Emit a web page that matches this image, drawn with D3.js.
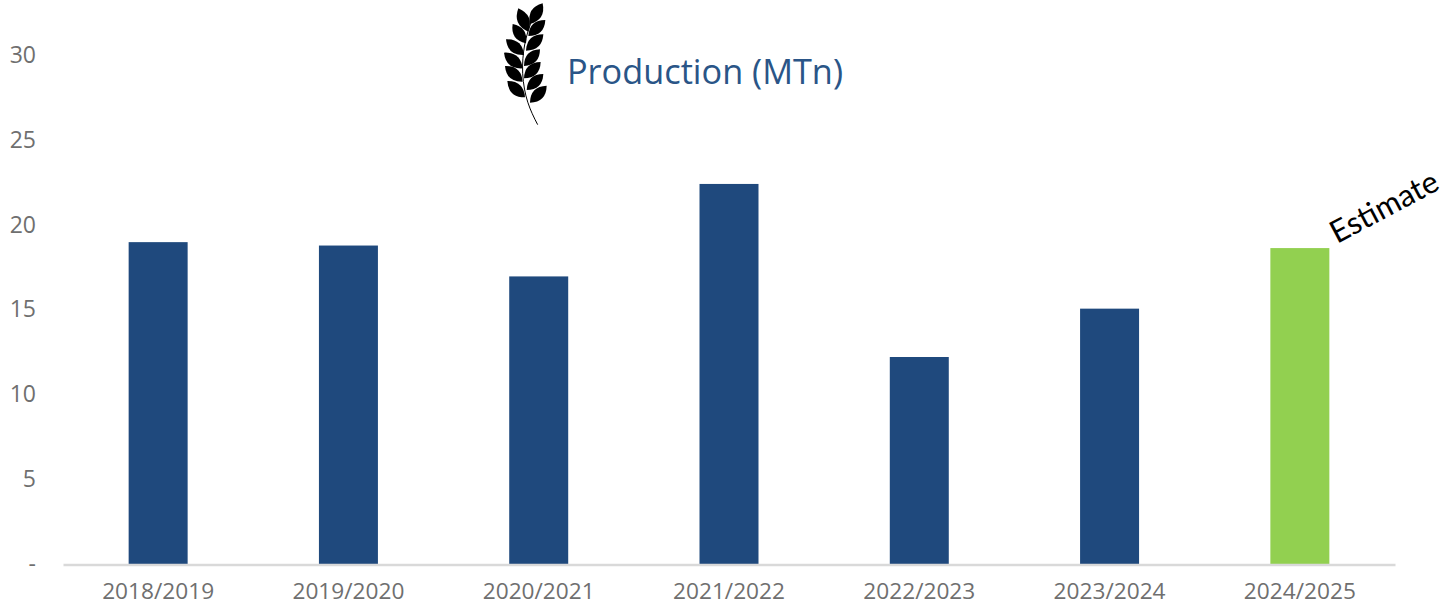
<!DOCTYPE html>
<html><head><meta charset="utf-8">
<script src="https://cdn.jsdelivr.net/npm/d3@7"></script>
<style>html,body{margin:0;padding:0;background:#fff}svg{display:block}</style>
</head><body><svg id="c" width="1445" height="612"></svg>
<script>
const categories=["2018/2019","2019/2020","2020/2021","2021/2022","2022/2023","2023/2024","2024/2025"];
const production=[18.97,18.77,16.95,22.4,12.2,15.05,18.62];
const barColors=["#1f497d","#1f497d","#1f497d","#1f497d","#1f497d","#1f497d","#92d050"];
const yTicks=[0,5,10,15,20,25,30];
const chartTitle="Production (MTn)";
const note="Estimate";
const font="'Open Sans','Noto Sans',sans-serif";

const svg=d3.select("#c");
const x=d3.scaleBand().domain(categories).range([63,1395]).paddingInner(0.69).paddingOuter(0.345);
const y=d3.scaleLinear().domain([0,30]).range([564,55]);

svg.append("g").selectAll("rect").data(categories).join("rect")
 .attr("x",d=>x(d)).attr("width",x.bandwidth())
 .attr("y",(d,i)=>y(production[i])).attr("height",(d,i)=>y(0)-y(production[i]))
 .attr("fill",(d,i)=>barColors[i]);

const xAxis=svg.append("g").attr("transform",`translate(0,${y(0)+0.5})`)
 .call(d3.axisBottom(x).tickSize(0).tickPadding(19));
xAxis.select(".domain").attr("stroke","#d9d9d9").attr("stroke-width",2.4);
xAxis.selectAll("text").attr("font-family",font).attr("font-size",22.5).attr("fill","#6f6f6f").attr("textLength",112).attr("lengthAdjust","spacingAndGlyphs");

const yAxis=svg.append("g").attr("transform","translate(37,0)")
 .call(d3.axisLeft(y).tickValues(yTicks).tickSize(0).tickFormat(d=>d===0?"-":d));
yAxis.select(".domain").remove();
yAxis.selectAll("text").attr("font-family",font).attr("font-size",23).attr("fill","#6f6f6f").attr("text-anchor","end").attr("x",-1);

svg.append("text").attr("x",567).attr("y",84).attr("font-family",font).attr("font-size",35)
 .attr("fill","#2a5587").attr("textLength",276).attr("lengthAdjust","spacingAndGlyphs").text(chartTitle);

svg.append("text").attr("transform","translate(1337,244) rotate(-28)").attr("font-family","Lato,'Open Sans',sans-serif").attr("font-weight",400)
 .attr("font-size",31).attr("fill","#000").attr("textLength",118).attr("lengthAdjust","spacingAndGlyphs").text(note);

// wheat icon
const icon=svg.append("g").attr("transform","translate(500,0) scale(0.3333)");
const leaves=[[55,25,85,95],[38,72,78,130],[18,118,72,165],[12,158,68,205],[15,198,68,245],[22,243,75,292],
 [128,10,90,72],[136,60,85,108],[130,103,78,152],[120,148,72,198],[122,186,72,235],[130,222,80,270],[140,257,90,308]];
function leaf([tx,ty,bx,by]){
 const mx=(tx+bx)/2,my=(ty+by)/2,dx=bx-tx,dy=by-ty,k=0.47;
 return `M${tx},${ty}Q${mx-dy*k},${my+dx*k} ${bx},${by}Q${mx+dy*k},${my-dx*k} ${tx},${ty}Z`;
}
icon.selectAll("path.leaf").data(leaves).join("path").attr("class","leaf").attr("d",leaf).attr("fill","#000");
icon.append("path").attr("d","M113,374C90,330 72,290 68,220C66,160 75,110 100,50").attr("fill","none").attr("stroke","#000").attr("stroke-width",3);
</script></body></html>
